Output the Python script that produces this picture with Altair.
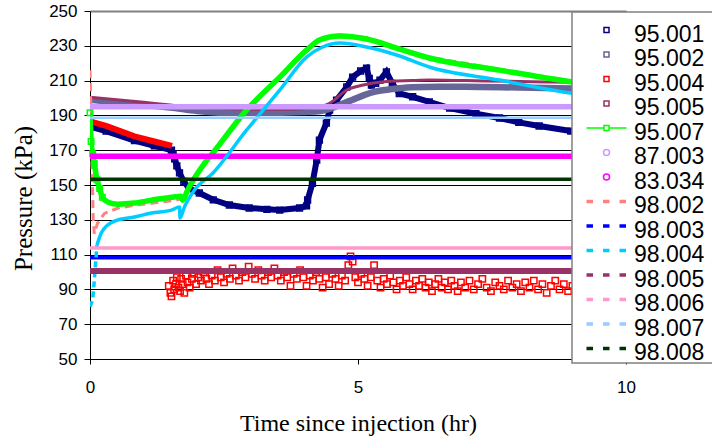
import altair as alt
import pandas as pd

# ---------------- data ----------------
series_names = ["95.001", "95.002", "95.004", "95.005", "95.007", "87.003", "83.034",
                "98.002", "98.003", "98.004", "98.005", "98.006", "98.007", "98.008"]
series_colors = ["#000080", "#666699", "#FF0000", "#993366", "#00FF00", "#CC99FF", "#FF00FF",
                 "#FF8080", "#0000FF", "#00CCFF", "#993366", "#FF99CC", "#99CCFF", "#003300"]

t_95001 = [0, 0.3, 0.83, 1.2, 1.52, 1.55, 1.58, 1.62, 1.67, 1.75, 1.85, 2.04, 2.3, 2.6, 2.97, 3.3,
           3.54, 3.91, 4.04, 4.06, 4.15, 4.23, 4.28, 4.41, 4.47, 4.6, 4.79, 4.9, 5.05, 5.16, 5.21,
           5.25, 5.33, 5.41, 5.53, 5.64, 5.77, 6.02, 6.33, 6.71, 7.2, 7.64, 8.0, 8.38, 8.97, 9.5, 10.0]
p_95001 = [183.5, 181, 175.5, 172.5, 170, 168, 165, 161, 157, 152, 148, 145.4, 141.5, 138.5, 136.8, 136,
           135.6, 136.8, 138, 141.4, 151, 164.3, 175.8, 185.6, 193, 198.8, 206.3, 212, 215.5, 217.2, 211.3,
           207.4, 208.5, 210.3, 215, 208.4, 202.6, 200.7, 197.8, 194.2, 191, 188.5, 186, 183.9, 181, 179, 177]

t_95002 = [0, 0.5, 1.0, 1.5, 2.0, 2.5, 3.0, 3.5, 4.0, 4.3, 4.5, 4.7, 4.9, 5.1, 5.3, 5.6, 6.0, 6.5, 7.0, 8.0, 9.0, 10.0]
p_95002 = [199, 197.5, 196, 194.5, 192.5, 191.5, 191.5, 191.5, 192, 192.5, 194, 196.5, 199, 201.5, 203.5,
           205, 206.2, 206.5, 206.5, 206, 205.5, 205]

t_95004_a = [0, 0.3, 0.83, 1.2, 1.53]
p_95004_a = [186.5, 184, 178, 175, 172.5]
t_95004_b = [1.47, 1.50, 1.52, 1.55, 1.57, 1.60, 1.62, 1.65, 1.68, 1.70, 1.73, 1.76, 1.79, 1.82, 1.86, 1.90, 1.94, 1.98,
             2.02, 2.07, 2.12, 2.17, 2.22, 2.27, 2.33, 2.38, 2.44, 2.50, 2.55, 2.61, 2.66, 2.72, 2.78, 2.84, 2.90, 2.96,
             3.02, 3.08, 3.14, 3.20, 3.26, 3.32, 3.38, 3.44, 3.50, 3.56, 3.62, 3.68, 3.74, 3.80, 3.86, 3.92, 3.98,
             4.04, 4.10, 4.16, 4.22, 4.28, 4.34, 4.40, 4.46, 4.52, 4.58, 4.64, 4.70, 4.76, 4.82, 4.86, 4.90, 4.95,
             5.00, 5.06, 5.12, 5.18, 5.24, 5.30, 5.36, 5.42, 5.48, 5.54, 5.60, 5.66, 5.72, 5.78, 5.84, 5.90, 5.96,
             6.02, 6.08, 6.14, 6.20, 6.26, 6.32, 6.38, 6.44, 6.50, 6.56, 6.62, 6.68, 6.74, 6.80, 6.86, 6.92,
             7.00, 7.08, 7.16, 7.24, 7.32, 7.40, 7.48, 7.56, 7.64, 7.72, 7.80, 7.88, 7.96,
             8.04, 8.12, 8.20, 8.28, 8.36, 8.44, 8.52, 8.60, 8.68, 8.76, 8.84, 8.92, 9.00]
p_95004_b = [92, 88, 86, 95, 90, 93, 97, 91, 89, 96, 93, 88, 98, 94, 91, 96, 99, 93,
             97, 95, 100, 96, 93, 98, 95, 101, 97, 94, 99, 96, 102, 98, 95, 100, 97, 103,
             99, 96, 101, 98, 95, 100, 97, 102, 98, 95, 100, 97, 92, 99, 96, 101, 97,
             92, 98, 95, 100, 96, 91, 97, 93, 99, 96, 92, 98, 95, 104, 109, 106, 97,
             94, 99, 96, 92, 97, 104, 95, 91, 96, 93, 98, 94, 90, 95, 92, 97, 93,
             90, 95, 92, 96, 91, 94, 89, 93, 96, 91, 94, 90, 95, 92, 89, 94,
             91, 95, 90, 93, 96, 91, 89, 94, 92, 90, 95, 91, 93,
             89, 94, 91, 95, 90, 93, 88, 92, 95, 90, 93, 89, 92]

t_95005 = [0, 0.5, 1.0, 1.5, 2.0, 2.5, 3.0, 3.5, 4.0, 4.3, 4.47, 4.79, 5.1, 5.4, 6.0, 6.33, 7.0, 8.0, 9.0, 10.0]
p_95005 = [200.5, 199, 197.5, 196, 194.5, 194, 193.5, 193.5, 194, 195, 197, 204.6, 207.5, 209.1, 210,
           210.3, 210, 209.5, 209, 208.5]

t_95007 = [0, 0.02, 0.05, 0.08, 0.13, 0.18, 0.23, 0.33, 0.51, 0.83, 1.15, 1.52, 1.70, 1.73, 1.82, 2.14,
           2.29, 2.92, 3.54, 4.04, 4.28, 4.66, 5.16, 5.72, 6.33, 7.64, 8.97, 10.0]
p_95007 = [191.5, 175, 168, 162.5, 153, 148, 143, 140.2, 139, 139.6, 141.3, 143, 143.5, 141.3, 147, 162.6,
           168.3, 193, 212, 227.5, 233.3, 235.6, 233.9, 228.7, 223, 216, 209.3, 205]

t_98002 = [0, 0.01, 0.02, 0.04, 0.06, 0.08, 0.14, 0.27, 0.51, 0.83, 1.15, 1.52, 1.70, 1.73, 1.82, 2.14,
           2.29, 2.92, 3.54, 4.04, 4.28, 4.66, 5.16, 5.72, 6.33, 7.64, 8.97, 10.0]
p_98002 = [216, 205, 187, 160, 130, 122, 128, 133.7, 136.6, 138.4, 139.5, 141, 142, 141.8, 147.5, 163,
           168.8, 193.5, 212.5, 228, 234, 236.3, 234.6, 229.3, 223.5, 216.5, 209.8, 205.5]

t_98004 = [0, 0.05, 0.08, 0.11, 0.13, 0.21, 0.33, 0.51, 0.83, 1.15, 1.52, 1.67, 1.68, 1.76, 1.95, 2.29,
           2.92, 3.54, 4.04, 4.34, 4.66, 5.16, 5.72, 6.33, 7.64, 8.97, 10.0]
p_98004 = [80, 84, 95, 107, 115.5, 122.4, 127, 129.8, 131.6, 133.9, 135.6, 137.3, 131, 137.3, 147.1, 156.8,
           181.5, 204.5, 223.5, 229.3, 231.6, 229.3, 224.7, 217.8, 210.3, 202.8, 199]

t_flat = [0, 10]
p_87003 = [195, 195]
p_83034 = [166.5, 166.5]
p_98003 = [108.2, 108.2]
p_98005 = [100.6, 100.6]
p_98006 = [113.8, 113.8]
p_98007 = [188.6, 188.6]
p_98008 = [153.3, 153.3]

x_ticks = [0, 5, 10]
y_ticks = [50, 70, 90, 110, 130, 150, 170, 190, 210, 230, 250]

# ---------------- styling helpers ----------------
DY = -0.45
def sq(r=0.25):
    return f"M{-r},{DY - r}H{r}V{DY + r}H{-r}Z"
def circ(r=0.3):
    return f"M{r},{DY}A{r},{r},0,1,1,{-r},{DY}A{r},{r},0,1,1,{r},{DY}Z"
def dash():
    parts = []
    for off in (-0.1, 0.0, 0.1):
        y = DY + off
        parts.append(f"M-2,{y}H-1.35M-0.35,{y}H0.3M1.3,{y}H1.95")
    return "".join(parts)
def line_sq():
    return f"M-2,{DY}H-0.25M0.25,{DY}H2" + sq()

legend_paths = [sq(), sq(), sq(), sq(), line_sq(), circ(), circ(),
                dash(), dash(), dash(), dash(), dash(), dash(), dash()]

xs = alt.Scale(domain=[0, 10], nice=False, zero=False)
ys = alt.Scale(domain=[50, 250], nice=False, zero=False)

x_axis = alt.Axis(values=x_ticks, title="Time since injection (hr)", grid=False, tickSize=5,
                  labelPadding=15, labelFlush=False, labelFont="Liberation Sans", labelFontSize=17,
                  labelColor="black", tickColor="black", domainColor="black", domainWidth=1,
                  titleFont="Liberation Serif", titleFontSize=24, titleFontWeight="normal",
                  titleColor="black", titleY=71, titleBaseline="alphabetic")
y_axis = alt.Axis(values=y_ticks, title="Pressure (kPa)", grid=True,
                  gridColor=alt.condition("datum.value == 250", alt.value("#808080"), alt.value("black")),
                  gridWidth=alt.condition("datum.value == 250", alt.value(2), alt.value(1)),
                  tickSize=6, labelPadding=7, labelFlush=False, labelFont="Liberation Sans",
                  labelFontSize=17, labelColor="black", tickColor="black", domainColor="black",
                  domainWidth=1, titleFont="Liberation Serif", titleFontSize=25,
                  titleFontWeight="normal", titleColor="black", titleX=-67, titleY=187,
                  titleBaseline="middle")


def frame(t, p):
    return pd.DataFrame({"x": t, "y": p})


def enc(ch):
    return ch.encode(x=alt.X("x:Q", scale=xs, axis=x_axis), y=alt.Y("y:Q", scale=ys, axis=y_axis))


def line(t, p, color, width, dash_=None, interp="linear"):
    kw = dict(color=color, strokeWidth=width, clip=True, interpolate=interp)
    if dash_ is not None:
        kw["strokeDash"] = dash_
    return enc(alt.Chart(frame(t, p)).mark_line(**kw))


def squares(t, p, color, size, width=1.2):
    return enc(alt.Chart(frame(t, p)).mark_point(shape="square", filled=False, color=color,
                                                size=size, strokeWidth=width, opacity=1, clip=True))


layers = [
    line(t_95001, p_95001, "#000080", 6),
    squares(t_95001, p_95001, "#000080", 34, 1.5),
    line(t_95002, p_95002, "#666699", 6.5, interp="monotone"),
    line(t_95004_a, p_95004_a, "#FF0000", 6),
    squares(t_95004_b, p_95004_b, "#FF0000", 40, 1.5),
    line(t_95005, p_95005, "#993366", 3, interp="monotone"),
    line(t_98002, p_98002, "#FF8080", 3, dash_=[8, 5]),
    line(t_95007, p_95007, "#00FF00", 5.5, interp="monotone"),
    enc(alt.Chart(frame(t_95007, p_95007)).transform_filter("datum.x <= 0.25").mark_point(
        shape="square", filled=False, color="#00FF00", size=30, strokeWidth=1.5, opacity=1)),
    line(t_flat, p_87003, "#CC99FF", 5.5),
    line(t_flat, p_83034, "#FF00FF", 5.5),
    line(t_flat, p_98003, "#0000FF", 3.5),
    enc(alt.Chart(frame(t_98004, p_98004)).transform_filter("datum.x <= 0.13").mark_line(
        color="#00CCFF", strokeWidth=3.5, strokeDash=[6, 4], clip=True)),
    enc(alt.Chart(frame(t_98004, p_98004)).transform_filter("datum.x >= 0.13").mark_line(
        color="#00CCFF", strokeWidth=3.5, clip=True, interpolate="monotone")),
    line(t_flat, p_98005, "#993366", 6),
    line(t_flat, p_98006, "#FF99CC", 3.5),
    line(t_flat, p_98007, "#99CCFF", 2.5),
    line(t_flat, p_98008, "#003300", 3.5),
]

# white legend box (decoration) drawn over the plot area
legend_box = alt.Chart(pd.DataFrame({"k": [0]})).mark_rect(
    fill="white", stroke="#808080", strokeWidth=1.5
).encode(x=alt.value(482), x2=alt.value(660), y=alt.value(1), y2=alt.value(352))

legend_layer = alt.Chart(pd.DataFrame({"series": series_names})).mark_point(
    filled=False, opacity=1, size=400, strokeWidth=1.5
).encode(
    color=alt.Color("series:N", scale=alt.Scale(domain=series_names, range=series_colors), title=None),
    shape=alt.Shape("series:N", scale=alt.Scale(domain=series_names, range=legend_paths), title=None),
).transform_filter("false")

chart = alt.layer(*layers, legend_box, legend_layer).properties(
    width=536, height=348,
    autosize=alt.AutoSizeParams(type="none"),
    padding={"left": 90, "top": 11, "right": 86, "bottom": 80},
    background="white",
).configure_view(stroke=None).configure_legend(
    orient="none", legendX=482, legendY=12, padding=0,
    labelFont="Liberation Sans", labelFontSize=23,
    labelColor="black", symbolSize=400, symbolStrokeWidth=1.5, symbolOffset=23,
    labelOffset=16, rowPadding=0.5, labelLimit=200
)

chart.save("out.html", embed_options={"renderer": "svg", "actions": False})
